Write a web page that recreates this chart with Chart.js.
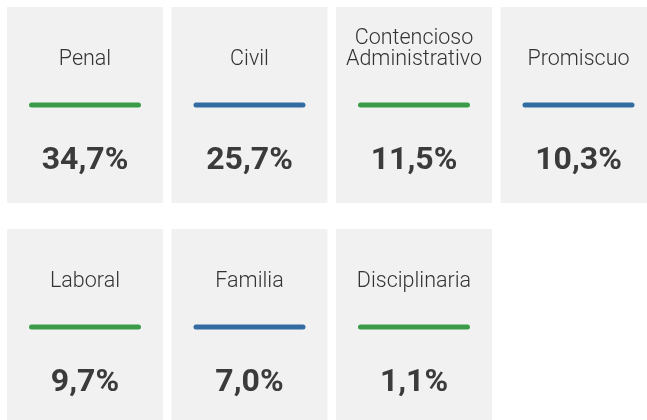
<!DOCTYPE html>
<html>
<head>
<meta charset="utf-8">
<script src="https://cdn.jsdelivr.net/npm/chart.js@4/dist/chart.umd.min.js"></script>
<style>
  html, body { margin: 0; padding: 0; background: #fff; }
  #wrap { width: 647px; height: 420px; position: relative; }
</style>
</head>
<body>
<div id="wrap"><canvas id="tarjetas"></canvas></div>
<script>
// ── Datos ─────────────────────────────────────────────────────────────────────
const especialidades = ['Penal', 'Civil', 'Contencioso\nAdministrativo', 'Promiscuo', 'Laboral', 'Familia', 'Disciplinaria'];
const porcentajes    = [34.7, 25.7, 11.5, 10.3, 9.7, 7.0, 1.1];

// ── Estilos ───────────────────────────────────────────────────────────────────
const COLUMNAS   = 4;
const colorLinea = ['#3a9b48', '#336ca3'];
const fondo      = '#f1f1f1';
const colorTexto = '#3b3b3b';

const puntos = especialidades.map((nombre, i) => ({
    x: i % COLUMNAS,
    y: Math.floor(i / COLUMNAS),
    nombre: nombre,
    valor: porcentajes[i],
    color: colorLinea[i % 2],
}));

const fmt = v => v.toFixed(1).replace('.', ',') + '%';

// ── Plugin que dibuja cada tarjeta sobre las escalas ─────────────────────────
const tarjetas = {
    id: 'tarjetas',
    afterDatasetsDraw(chart) {
        const ctx = chart.ctx;
        const xs  = chart.scales.x;
        const ys  = chart.scales.y;
        ctx.save();
        puntos.forEach(p => {
            const x0 = xs.getPixelForValue(p.x - 0.474);
            const x1 = xs.getPixelForValue(p.x + 0.474);
            const y0 = ys.getPixelForValue(p.y - 0.4414);
            const y1 = ys.getPixelForValue(p.y + 0.4414);
            const cx = (x0 + x1) / 2;

            ctx.fillStyle = fondo;
            ctx.fillRect(x0, y0, x1 - x0, y1 - y0);

            // título (alineado por la última línea)
            ctx.fillStyle = '#333';
            ctx.font = '300 21.5px Roboto';
            ctx.textAlign = 'center';
            ctx.textBaseline = 'alphabetic';
            const lineas = p.nombre.split('\n');
            lineas.forEach((t, k) => {
                ctx.fillText(t, cx, y0 + 58 - (lineas.length - 1 - k) * 21);
            });

            // línea de color
            ctx.strokeStyle = p.color;
            ctx.lineWidth = 5;
            ctx.lineCap = 'round';
            ctx.beginPath();
            ctx.moveTo(x0 + 24.5, y0 + 98);
            ctx.lineTo(x1 - 24.5, y0 + 98);
            ctx.stroke();

            // valor
            ctx.fillStyle = colorTexto;
            ctx.font = 'bold 32px Roboto';
            ctx.fillText(fmt(p.valor), cx, y0 + 162);
        });
        ctx.restore();
    }
};

new Chart(document.getElementById('tarjetas'), {
    type: 'scatter',
    data: {
        datasets: [{
            data: puntos,
            pointRadius: 0,
            pointHoverRadius: 0,
        }]
    },
    options: {
        responsive: true,
        maintainAspectRatio: false,
        animation: false,
        events: [],
        layout: { padding: 0 },
        plugins: { legend: { display: false }, tooltip: { enabled: false } },
        scales: {
            x: { type: 'linear', display: false, min: -0.5167, max: 3.4164 },
            y: { type: 'linear', display: false, reverse: true, min: -0.473, max: 1.419 }
        }
    },
    plugins: [tarjetas]
});
</script>
</body>
</html>
